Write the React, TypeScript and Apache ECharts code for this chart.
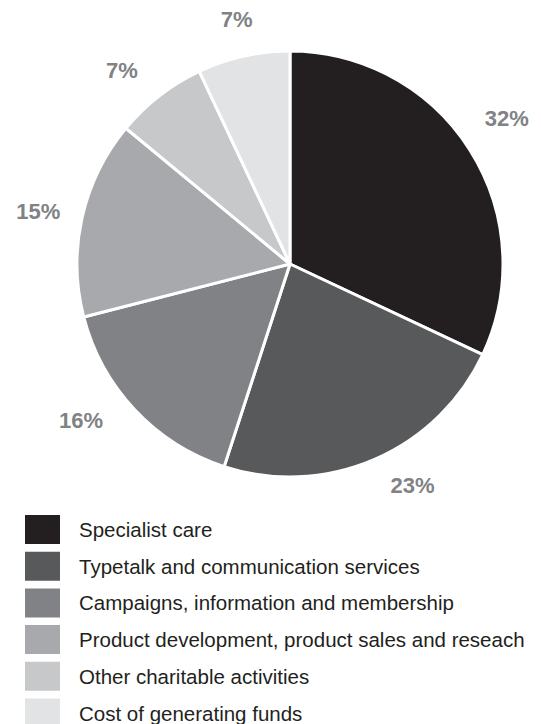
import React, { useEffect, useRef } from "react";
import * as echarts from "echarts";

const categories = [
  "Specialist care",
  "Typetalk and communication services",
  "Campaigns, information and membership",
  "Product development, product sales and reseach",
  "Other charitable activities",
  "Cost of generating funds",
];
const values = [32, 23, 16, 15, 7, 7];
const colors = ["#231f20", "#58595b", "#808285", "#a7a9ac", "#c7c8ca", "#e2e3e4"];
const labelNudges = [[-1, -7], [20, -15], [-21, -20], [0, 4], [-10, 10], [3, 7]];

export default function App() {
  const ref = useRef<HTMLDivElement>(null);
  useEffect(() => {
    document.body.style.margin = "0";
    const chart = echarts.init(ref.current!, null, { renderer: "svg" });
    const center = [290, 264];
    chart.setOption({
      animation: false,
      backgroundColor: "#ffffff",
      legend: {
        orient: "vertical",
        left: 25,
        top: 515,
        height: 300,
        padding: 0,
        icon: "rect",
        itemWidth: 35,
        itemHeight: 29,
        itemGap: 7.7,
        itemStyle: { borderWidth: 0 },
        selectedMode: false,
        data: categories,
        textStyle: {
          fontFamily: "Liberation Sans, Arial, sans-serif",
          fontSize: 20.5,
          color: "#231f20",
          padding: [2, 0, 0, 14],
        },
      },
      series: [
        {
          type: "pie",
          center,
          radius: [0, 213],
          startAngle: 90,
          clockwise: true,
          silent: true,
          label: { show: false },
          labelLine: { show: false },
          itemStyle: { borderColor: "#ffffff", borderWidth: 3 },
          data: categories.map((name, i) => ({
            name,
            value: values[i],
            itemStyle: { color: colors[i] },
          })),
        },
        {
          type: "pie",
          center,
          radius: [249, 261],
          startAngle: 90,
          clockwise: true,
          silent: true,
          legendHoverLink: false,
          itemStyle: { color: "rgba(0,0,0,0)", borderWidth: 0 },
          labelLine: { show: false },
          label: {
            show: true,
            position: "inside",
            formatter: (p: any) => `${p.value}%`,
            fontFamily: "Liberation Sans, Arial, sans-serif",
            fontWeight: "bold",
            fontSize: 22,
            color: "#808285",
          },
          data: categories.map((name, i) => ({
            name: name + " ",
            value: values[i],
            label: { offset: labelNudges[i] },
          })),
        },
      ],
    });
    return () => chart.dispose();
  }, []);
  return <div ref={ref} style={{ width: 541, height: 724 }} />;
}
